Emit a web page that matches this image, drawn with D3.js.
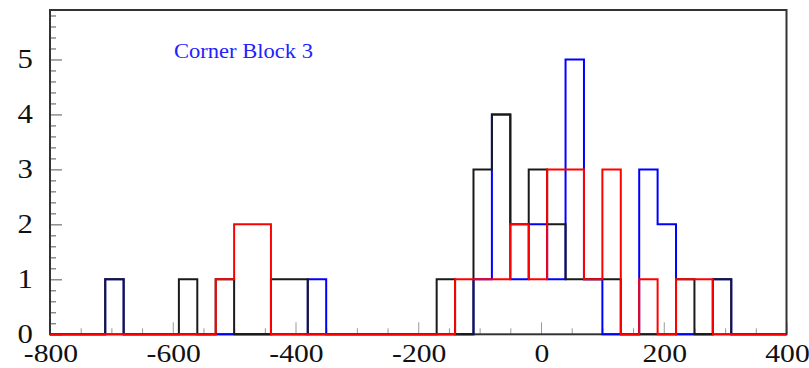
<!DOCTYPE html>
<html>
<head>
<meta charset="utf-8">
<script src="https://cdn.jsdelivr.net/npm/d3@7"></script>
<style>
  html, body { margin: 0; padding: 0; background: #fff; }
  svg { display: block; }
  text { font-family: "Liberation Serif", "DejaVu Serif", serif; }
</style>
</head>
<body>
<svg id="chart" width="809" height="368"></svg>
<script>
// Histogram binning: 40 bins of width 30 spanning [-800, 400)
const binStart = -800;
const binWidth = 30;
const binCount = 40;

// Entries per bin for each series
const blackCounts = [0,0,0,1,0,0,0,1,0,1, 0,0,1,1,0,0,0,0,0,0, 0,1,0,3,4,2,3,2,1,1, 1,0,0,0,1,0,1,0,0,0];
const blueCounts  = [0,0,0,1,0,0,0,0,0,0, 0,0,0,0,1,0,0,0,0,0, 0,0,0,1,4,1,2,1,5,1, 0,0,3,2,0,0,1,0,0,0];
const redCounts   = [0,0,0,0,0,0,0,0,0,1, 2,2,0,0,0,0,0,0,0,0, 0,0,1,1,1,2,1,3,3,1, 3,0,1,0,1,1,0,0,0,0];

// Axis ticks and labels
const xMajorTicks = [-800, -600, -400, -200, 0, 200, 400];
const yMajorTicks = [0, 1, 2, 3, 4, 5];
const titleText = "Corner Block 3";

const svg = d3.select("#chart");
const frameLeft = 50, frameRight = 786.5, frameTop = 10, frameBottom = 334.3;

const x = d3.scaleLinear().domain([-800, 400]).range([frameLeft, frameRight]);
const y = d3.scaleLinear().domain([0, 5.9]).range([frameBottom, frameTop]);

svg.append("rect").attr("width", 809).attr("height", 368).attr("fill", "#fff");

// Minor ticks
const xMinor = d3.range(-800, 401, 50).filter(v => !xMajorTicks.includes(v));
const yMinor = d3.range(0, 5.81, 0.2).map(v => +v.toFixed(1)).filter(v => !yMajorTicks.includes(v));

const xMinorAxis = svg.append("g").attr("transform", `translate(0,${frameBottom})`)
  .call(d3.axisBottom(x).tickValues(xMinor).tickSize(-6).tickFormat(""));
const xMajorAxis = svg.append("g").attr("transform", `translate(0,${frameBottom})`)
  .call(d3.axisBottom(x).tickValues(xMajorTicks).tickSize(-12).tickFormat(""));
const yMinorAxis = svg.append("g").attr("transform", `translate(${frameLeft},0)`)
  .call(d3.axisLeft(y).tickValues(yMinor).tickSize(-6).tickFormat(""));
const yMajorAxis = svg.append("g").attr("transform", `translate(${frameLeft},0)`)
  .call(d3.axisLeft(y).tickValues(yMajorTicks).tickSize(-12).tickFormat(""));

[xMinorAxis, xMajorAxis, yMinorAxis, yMajorAxis].forEach(g => g.select(".domain").remove());
[xMinorAxis, xMajorAxis].forEach(g => g.selectAll(".tick line").attr("stroke", "#999").attr("stroke-width", 1));
[yMinorAxis, yMajorAxis].forEach(g => g.selectAll(".tick line").attr("stroke", "#555").attr("stroke-width", 1));

// Frame
svg.append("rect")
  .attr("x", frameLeft).attr("y", frameTop)
  .attr("width", frameRight - frameLeft).attr("height", frameBottom - frameTop)
  .attr("fill", "none").attr("stroke", "#333").attr("stroke-width", 2);

// Tick labels
const labelScale = 1.14;
svg.append("g").selectAll("text").data(xMajorTicks).join("text")
  .attr("transform", d => `translate(${x(d) + 1},362) scale(${labelScale},1)`)
  .attr("text-anchor", "middle")
  .attr("font-size", 26)
  .attr("fill", "#111")
  .text(d => d);

svg.append("g").selectAll("text").data(yMajorTicks).join("text")
  .attr("transform", d => `translate(33,${y(d) + 9}) scale(${labelScale},1)`)
  .attr("text-anchor", "end")
  .attr("font-size", 27)
  .attr("fill", "#111")
  .text(d => d);

// Step outlines of the histograms
const edges = d3.range(binCount + 1).map(i => binStart + i * binWidth);
const stepLine = d3.line()
  .x(d => x(d[0]))
  .y(d => y(d[1]))
  .curve(d3.curveStepAfter);

function outline(counts) {
  const pts = counts.map((c, i) => [edges[i], c]);
  pts.push([edges[binCount], counts[binCount - 1]]);
  return stepLine(pts);
}

const series = [
  { counts: blueCounts, color: "#0000ff" },
  { counts: blackCounts, color: "#1a1a1a" },
  { counts: redCounts, color: "#ff0000" }
];

svg.append("g").selectAll("path").data(series).join("path")
  .attr("d", d => outline(d.counts))
  .attr("fill", "none")
  .attr("stroke", d => d.color)
  .attr("stroke-width", 2)
  .attr("stroke-linejoin", "miter");

// Title label
svg.append("text")
  .attr("x", 174).attr("y", 58)
  .attr("font-size", 21)
  .attr("fill", "#2222ff")
  .attr("textLength", 139)
  .attr("lengthAdjust", "spacingAndGlyphs")
  .text(titleText);
</script>
</body>
</html>
